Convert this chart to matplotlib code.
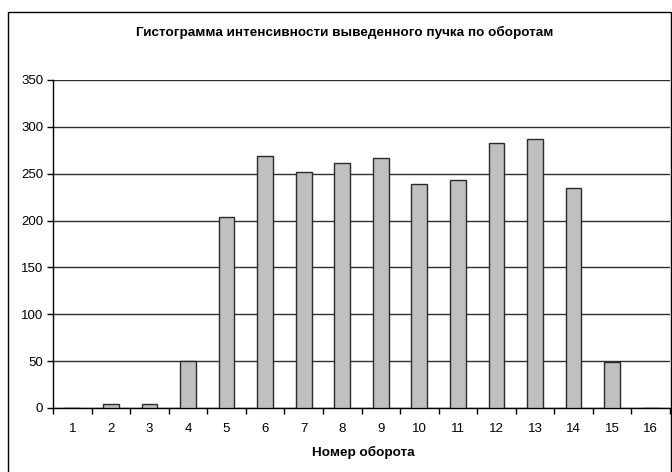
import matplotlib
matplotlib.use("Agg")
import matplotlib.pyplot as plt
from matplotlib.patches import Rectangle
from matplotlib import font_manager

turns = list(range(1, 17))
intensity = [0, 4, 4, 50, 204, 269, 252, 261, 267, 239, 243, 283, 287, 235, 49, 0]
y_ticks = [0, 50, 100, 150, 200, 250, 300, 350]
title = "Гистограмма интенсивности выведенного пучка по оборотам"
xlabel = "Номер оборота"

avail = {f.name for f in font_manager.fontManager.ttflist}
fam = ["Liberation Sans Narrow"] if "Liberation Sans Narrow" in avail else ["Liberation Sans"]
plt.rcParams['font.family'] = fam + ["DejaVu Sans"]

W, H = 672, 472
fig = plt.figure(figsize=(W / 100, H / 100), dpi=100)

# outer chart border (cropped at right and bottom)
fig.patches.append(Rectangle((8 / W, -0.05), (671 - 8) / W, (H - 12) / H + 0.05,
                             transform=fig.transFigure, fill=False,
                             edgecolor="black", linewidth=1.0))

ax = fig.add_axes([53 / W, (H - 408) / H, (670 - 53) / W, (408 - 80) / H])
ax.bar(turns, intensity, width=0.41, color="#C0C0C0", edgecolor="#2a2a2a",
       linewidth=1.0, zorder=3)

ax.set_xlim(0.5, 16.5)
ax.set_ylim(0, 350)
ax.set_yticks(y_ticks)
ax.yaxis.grid(True, color="#303030", linewidth=1.0, zorder=0)
ax.set_axisbelow(True)

ax.set_xticks(turns)
ax.set_xticklabels([str(t) for t in turns])
ax.set_xticks([t + 0.5 for t in range(0, 17)], minor=True)
ax.tick_params(axis="x", which="major", length=0, pad=11, labelsize=9.5)
ax.tick_params(axis="x", which="minor", length=4, width=1, direction="out", color="black")
ax.tick_params(axis="y", length=4, width=1, direction="out", labelsize=9.5, pad=3)

for s in ["top", "right"]:
    ax.spines[s].set_visible(False)
for s in ["left", "bottom"]:
    ax.spines[s].set_color("black")
    ax.spines[s].set_linewidth(1.0)

fig.text(345 / W, 1 - 32 / H, title, ha="center", va="center",
         fontsize=9.7, fontweight="bold")
fig.text(363 / W, 1 - 452 / H, xlabel, ha="center", va="center",
         fontsize=9.7, fontweight="bold")

fig.savefig("out.png", dpi=100)
